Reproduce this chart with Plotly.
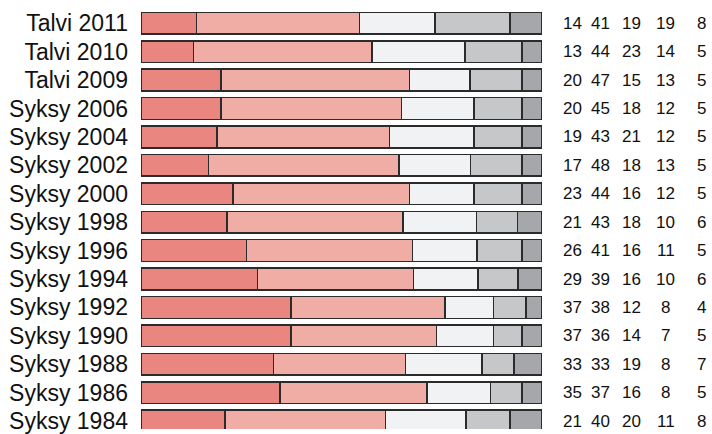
import plotly.graph_objects as go

categories = ["Talvi 2011", "Talvi 2010", "Talvi 2009", "Syksy 2006", "Syksy 2004",
              "Syksy 2002", "Syksy 2000", "Syksy 1998", "Syksy 1996", "Syksy 1994",
              "Syksy 1992", "Syksy 1990", "Syksy 1988", "Syksy 1986", "Syksy 1984"]
s1 = [14, 13, 20, 20, 19, 17, 23, 21, 26, 29, 37, 37, 33, 35, 21]
s2 = [41, 44, 47, 45, 43, 48, 44, 43, 41, 39, 38, 36, 33, 37, 40]
s3 = [19, 23, 15, 18, 21, 18, 16, 18, 16, 16, 12, 14, 19, 16, 20]
s4 = [19, 14, 13, 12, 12, 13, 12, 10, 11, 10, 8, 7, 8, 8, 11]
s5 = [8, 5, 5, 5, 5, 5, 5, 6, 5, 6, 4, 5, 7, 5, 8]

series = [s1, s2, s3, s4, s5]
colors = ["#E8867F", "#F0ADA6", "#F1F2F4", "#C6C7C9", "#A6A7AA"]
col_x = [1.077, 1.147, 1.224, 1.309, 1.399]

FONT = "Arial, Liberation Sans, sans-serif"

fig = go.Figure()
for vals, c in zip(series, colors):
    fig.add_trace(go.Bar(
        y=categories, x=vals, orientation="h",
        marker=dict(color=c, line=dict(color="#2b2b2b", width=1.5)),
        showlegend=False, hoverinfo="skip"))

annotations = []
for vals, cx in zip(series, col_x):
    for cat, v in zip(categories, vals):
        annotations.append(dict(
            x=cx, xref="paper", y=cat, yref="y", text=str(v), showarrow=False,
            xanchor="center", yanchor="middle",
            font=dict(family=FONT, size=17, color="#111")))

fig.update_layout(
    width=712, height=434,
    margin=dict(l=141, r=170, t=9, b=0),
    barmode="stack", barnorm="percent", bargap=0.235,
    plot_bgcolor="white", paper_bgcolor="white",
    annotations=annotations,
    font=dict(family=FONT, color="#111"),
)
fig.update_xaxes(range=[0, 100], showticklabels=False, showgrid=False,
                 zeroline=False, showline=False, ticks="")
fig.update_yaxes(categoryorder="array", categoryarray=categories,
                 range=[14.278, -0.5], showgrid=False, zeroline=False,
                 showline=False, ticks="", ticklabelstandoff=12,
                 tickfont=dict(size=23, family=FONT, color="#111"))

fig.write_html(
    "out.html",
    config={"displayModeBar": False, "staticPlot": True},
    post_script="document.body.style.margin='0';document.body.style.overflow='hidden';",
)
